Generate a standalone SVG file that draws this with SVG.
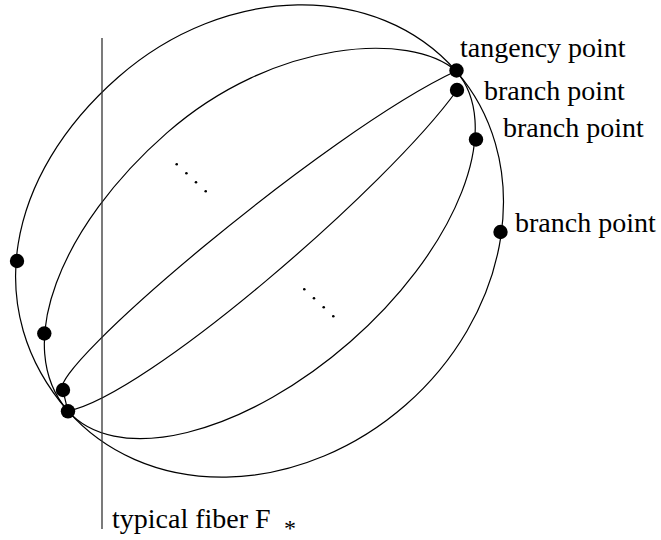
<svg xmlns="http://www.w3.org/2000/svg" width="661" height="540" viewBox="0 0 661 540">
<style>
.c{fill:none;stroke:#000;stroke-width:1.2}
.f{fill:none;stroke:#333;stroke-width:1.3}
.d{fill:#000}
.s{fill:#000}
.t{font-family:"Liberation Serif","Times New Roman",serif;font-size:28px;fill:#000}
</style>
<rect width="661" height="540" fill="#fff"/>
<g id="connectors">
<g transform="translate(262 241) rotate(-41.2)">
<path id="outer-upper" class="c" d="M 258 0 C 258 -120.3 142.4 -218 0 -218 C -150 -218 -258 -132 -258 0"/>
<path id="outer-lower" class="c" d="M 258 0 A 258 218 0 0 1 -258 0"/>
<path id="mid-upper" class="c" d="M 258 0 C 250 -60 142.4 -144 0 -144 C -142.4 -144 -258 -85 -258 0"/>
<path id="mid-lower" class="c" d="M 258 0 A 258 134 0 0 1 -258 0"/>
<path id="inner-upper" class="c" d="M 258 0 C 120 -40 -250 -45 -248 -19 L -258 0"/>
<path id="inner-lower" class="c" d="M 246 15 C 130 42 -190 40 -258 0"/>
</g>
<line id="fiber" class="f" x1="102" y1="38" x2="102" y2="529"/>
</g>
<g id="ellipsis-dots">
<circle class="s" cx="176.7" cy="164.3" r="1.3"/>
<circle class="s" cx="186.4" cy="173.3" r="1.3"/>
<circle class="s" cx="196" cy="182.3" r="1.3"/>
<circle class="s" cx="205.7" cy="191.3" r="1.3"/>
<circle class="s" cx="304.3" cy="289.3" r="1.3"/>
<circle class="s" cx="314" cy="298.3" r="1.3"/>
<circle class="s" cx="323.7" cy="307.3" r="1.3"/>
<circle class="s" cx="333.3" cy="316.3" r="1.3"/>
</g>
<g id="tangency"><circle class="d" cx="456.5" cy="70.5" r="7.2"/><text class="t" x="460" y="57">tangency point</text></g>
<g id="branch1"><circle class="d" cx="457" cy="90" r="7.2"/><text class="t" x="484" y="100">branch point</text></g>
<g id="branch2"><circle class="d" cx="476" cy="139.5" r="7.2"/><text class="t" x="503" y="137">branch point</text></g>
<g id="branch3"><circle class="d" cx="500.5" cy="232" r="7.2"/><text class="t" x="515" y="232">branch point</text></g>
<g id="left0"><circle class="d" cx="17" cy="261" r="7.2"/></g>
<g id="left1"><circle class="d" cx="44.3" cy="333.5" r="7.2"/></g>
<g id="left2"><circle class="d" cx="63" cy="390" r="7.2"/></g>
<g id="left3"><circle class="d" cx="68" cy="411.3" r="7.2"/></g>
<g id="fiber-label"><text class="t" x="112" y="528">typical fiber F<tspan x="284" y="536" font-size="24">*</tspan></text></g>
</svg>
